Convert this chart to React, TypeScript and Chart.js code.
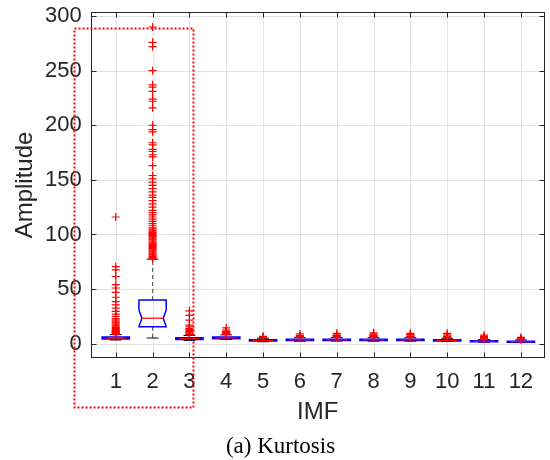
import { useEffect, useRef } from "react";
import { Chart, registerables } from "chart.js";

Chart.register(...registerables);

// IMF index on the x axis
const imfs = [1, 2, 3, 4, 5, 6, 7, 8, 9, 10, 11, 12];
const yTickValues = [0, 50, 100, 150, 200, 250, 300];

// Box statistics per IMF (kurtosis)
const q1 = [4.2, 15.6, 3.9, 4.5, 2.4, 2.9, 2.9, 2.9, 2.9, 2.4, 1.7, 1.3];
const median = [5.0, 23.3, 4.6, 5.2, 3.0, 3.5, 3.5, 3.5, 3.5, 3.0, 2.2, 1.8];
const q3 = [6.0, 40.0, 5.5, 6.1, 3.6, 4.1, 4.1, 4.1, 4.1, 3.6, 2.7, 2.3];
const notchLow = [4.6, 15.7, 4.3, 4.9, 2.7, 3.2, 3.2, 3.2, 3.2, 2.7, 2.0, 1.6];
const notchHigh = [5.4, 30.9, 4.9, 5.5, 3.3, 3.8, 3.8, 3.8, 3.8, 3.3, 2.4, 2.0];
const whiskerLow = [3.4, 5.2, 3.0, 3.8, 1.8, 2.3, 2.4, 2.3, 2.3, 1.9, 1.3, 1.0];
const whiskerHigh = [8.3, 77.4, 7.5, 8.1, 5.0, 5.5, 5.5, 5.5, 5.5, 5.0, 3.8, 3.4];

// Outlying values per IMF
const outlierValues: number[][] = [
  [116, 70.5, 67.5, 61.5, 54, 51, 47, 42.5, 38.5, 35.5, 32.5, 29.5, 27, 25, 23, 21.5, 20, 19, 18, 17, 16, 15, 14, 13, 12, 11.5, 11, 10.5, 10, 9.5, 9, 8.5],
  [290, 276, 272, 250, 237, 235, 231, 224, 222, 216, 200, 196, 194, 184, 182, 178, 176, 173, 171, 163, 154, 151, 148, 145, 142, 139, 136, 134, 131, 128, 125, 122, 120, 118, 116, 114, 112, 110, 108, 106, 105, 104, 103, 102, 101, 100, 99, 98, 97, 96, 95, 94, 93, 92, 91, 90, 89, 88, 87, 86, 85, 84, 83, 82, 81, 80, 79, 78],
  [30, 26, 21.5, 17, 15.5, 14, 13, 12, 11, 10, 9, 8.5, 8],
  [14.5, 12.5, 11.5, 11, 10.5, 10, 9.5, 9, 8.5],
  [6.7, 6, 5.5],
  [8.9, 7.5, 7, 6.5, 6],
  [9.5, 8, 7.5, 7, 6.5, 6],
  [10, 9, 8, 7.5, 7, 6.5, 6],
  [9.5, 8.5, 8, 7, 6.5, 6],
  [9.5, 8, 7, 6.5, 6, 5.5],
  [7.8, 6.5, 5.5, 5, 4.5, 4],
  [5.7, 5, 4.5, 4, 3.6],
];

// Highlighted group (IMF 1-3), in data units
const highlightX = [-0.13, 3.11];
const highlightY = [-58.2, 288.7];

const AXIS_COLOR = "#262626";
const SANS = '"Liberation Sans", Arial, sans-serif';

const boxHalfWidth = 0.37;
const capHalfWidth = 0.16;
const notchInset = 0.08;

const boxPlotPlugin = {
  id: "imfBoxPlot",
  beforeDatasetsDraw(chart: any) {
    const { ctx, chartArea: a, scales } = chart;
    const x = scales.x;
    const y = scales.y;
    ctx.save();
    // dotted grid
    ctx.strokeStyle = "#c6c6c6";
    ctx.lineWidth = 1;
    ctx.setLineDash([1, 1]);
    x.ticks.forEach((t: any) => {
      const px = Math.round(x.getPixelForValue(t.value)) + 0.5;
      ctx.beginPath();
      ctx.moveTo(px, a.top);
      ctx.lineTo(px, a.bottom);
      ctx.stroke();
    });
    y.ticks.forEach((t: any) => {
      const py = Math.round(y.getPixelForValue(t.value)) + 0.5;
      ctx.beginPath();
      ctx.moveTo(a.left, py);
      ctx.lineTo(a.right, py);
      ctx.stroke();
    });

    imfs.forEach((cat, i) => {
      const cx = x.getPixelForValue(cat);
      const hw = x.getPixelForValue(cat + boxHalfWidth) - cx;
      const cw = x.getPixelForValue(cat + capHalfWidth) - cx;
      const ni = x.getPixelForValue(cat + notchInset) - x.getPixelForValue(cat);
      const pQ1 = y.getPixelForValue(q1[i]);
      const pQ3 = y.getPixelForValue(q3[i]);
      const pMed = y.getPixelForValue(median[i]);
      const pNL = y.getPixelForValue(notchLow[i]);
      const pNH = y.getPixelForValue(notchHigh[i]);
      const pWL = y.getPixelForValue(whiskerLow[i]);
      const pWH = y.getPixelForValue(whiskerHigh[i]);

      // whiskers
      ctx.strokeStyle = "#555";
      ctx.lineWidth = 1;
      ctx.setLineDash([4, 3]);
      ctx.beginPath();
      ctx.moveTo(cx, pQ3);
      ctx.lineTo(cx, pWH);
      ctx.moveTo(cx, pQ1);
      ctx.lineTo(cx, pWL);
      ctx.stroke();
      ctx.setLineDash([]);
      ctx.strokeStyle = "#000";
      ctx.beginPath();
      ctx.moveTo(cx - cw, pWH);
      ctx.lineTo(cx + cw, pWH);
      ctx.moveTo(cx - cw, pWL);
      ctx.lineTo(cx + cw, pWL);
      ctx.stroke();

      // notched box
      ctx.strokeStyle = "#0000ff";
      ctx.lineWidth = 1.5;
      ctx.beginPath();
      ctx.moveTo(cx - hw, pQ3);
      ctx.lineTo(cx + hw, pQ3);
      ctx.lineTo(cx + hw, pNH);
      ctx.lineTo(cx + hw - ni, pMed);
      ctx.lineTo(cx + hw, pNL);
      ctx.lineTo(cx + hw, pQ1);
      ctx.lineTo(cx - hw, pQ1);
      ctx.lineTo(cx - hw, pNL);
      ctx.lineTo(cx - hw + ni, pMed);
      ctx.lineTo(cx - hw, pNH);
      ctx.closePath();
      ctx.stroke();

      // median
      ctx.strokeStyle = "#ff0000";
      ctx.lineWidth = 1.2;
      ctx.beginPath();
      ctx.moveTo(cx - hw + ni, pMed);
      ctx.lineTo(cx + hw - ni, pMed);
      ctx.stroke();
    });
    ctx.restore();
  },
  afterDatasetsDraw(chart: any) {
    const { ctx, chartArea: a, scales } = chart;
    const x = scales.x;
    const y = scales.y;
    const L = Math.round(a.left) + 0.5;
    const R = Math.round(a.right) - 0.5;
    const T = Math.round(a.top) + 0.5;
    const B = Math.round(a.bottom) - 0.5;
    ctx.save();
    ctx.strokeStyle = AXIS_COLOR;
    ctx.lineWidth = 1;
    ctx.strokeRect(L, T, R - L, B - T);
    const tick = 5;
    ctx.beginPath();
    x.ticks.forEach((t: any) => {
      const px = Math.round(x.getPixelForValue(t.value)) + 0.5;
      ctx.moveTo(px, B);
      ctx.lineTo(px, B - tick);
      ctx.moveTo(px, T);
      ctx.lineTo(px, T + tick);
    });
    y.ticks.forEach((t: any) => {
      const py = Math.round(y.getPixelForValue(t.value)) + 0.5;
      ctx.moveTo(L, py);
      ctx.lineTo(L + tick, py);
      ctx.moveTo(R, py);
      ctx.lineTo(R - tick, py);
    });
    ctx.stroke();
    ctx.restore();
  },
  afterDraw(chart: any) {
    const { ctx, scales } = chart;
    const x = scales.x;
    const y = scales.y;
    const x0 = Math.round(x.getPixelForValue(highlightX[0])) + 0.5;
    const x1 = Math.round(x.getPixelForValue(highlightX[1])) + 0.5;
    const y0 = Math.round(y.getPixelForValue(highlightY[1])) + 0.5;
    const y1 = Math.round(y.getPixelForValue(highlightY[0])) + 0.5;
    ctx.save();
    ctx.strokeStyle = "#ff0000";
    ctx.lineWidth = 2;
    ctx.setLineDash([2, 2]);
    ctx.strokeRect(x0, y0, x1 - x0, y1 - y0);
    ctx.setLineDash([]);
    ctx.fillStyle = "#000";
    ctx.font = '23px "Liberation Serif", "Times New Roman", serif';
    ctx.textAlign = "center";
    ctx.textBaseline = "alphabetic";
    ctx.fillText("(a) Kurtosis", 280.5, 452.7);
    ctx.restore();
  },
};

export default function App() {
  const canvasRef = useRef<HTMLCanvasElement | null>(null);

  useEffect(() => {
    if (!canvasRef.current) return;
    const points: { x: number; y: number }[] = [];
    outlierValues.forEach((vals, i) => {
      vals.forEach((v) => points.push({ x: imfs[i], y: v }));
    });

    const chart = new Chart(canvasRef.current, {
      type: "scatter",
      data: {
        datasets: [
          {
            label: "Outliers",
            data: points,
            pointStyle: "cross",
            pointRadius: 4,
            pointBorderColor: "#ff0000",
            pointBackgroundColor: "#ff0000",
            pointBorderWidth: 1.2,
            showLine: false,
          },
        ],
      },
      options: {
        animation: false,
        responsive: false,
        layout: { padding: { left: 0, top: 11.7, right: 1.5, bottom: 33.1 } },
        plugins: {
          legend: { display: false },
          tooltip: { enabled: false },
          title: { display: false },
        },
        scales: {
          x: {
            type: "linear",
            min: 0.32,
            max: 12.65,
            afterBuildTicks: (scale: any) => {
              scale.ticks = imfs.map((v) => ({ value: v }));
            },
            afterFit: (scale: any) => {
              scale.height = 68.6;
              scale.paddingLeft = 0;
              scale.paddingRight = 0;
            },
            ticks: {
              autoSkip: false,
              maxRotation: 0,
              padding: 10.5,
              color: AXIS_COLOR,
              font: { family: SANS, size: 22 },
              callback: (v: any) => String(v),
            },
            grid: { display: false, drawTicks: false },
            border: { display: false },
            title: {
              display: true,
              text: "IMF",
              color: AXIS_COLOR,
              font: { family: SANS, size: 24 },
              padding: { top: 0, bottom: 0 },
            },
          },
          y: {
            type: "linear",
            min: -13.4,
            max: 304,
            afterBuildTicks: (scale: any) => {
              scale.ticks = yTickValues.map((v) => ({ value: v }));
            },
            afterFit: (scale: any) => {
              scale.width = 90.7;
              scale.paddingTop = 0;
              scale.paddingBottom = 0;
            },
            ticks: {
              padding: 9,
              color: AXIS_COLOR,
              font: { family: SANS, size: 22 },
              callback: (v: any) => String(v),
            },
            grid: { display: false, drawTicks: false },
            border: { display: false },
            title: {
              display: true,
              text: "Amplitude",
              color: AXIS_COLOR,
              font: { family: SANS, size: 24 },
              padding: { top: 10.8, bottom: 0 },
            },
          },
        },
      },
      plugins: [boxPlotPlugin],
    });
    return () => chart.destroy();
  }, []);

  return (
    <div style={{ position: "absolute", left: 0, top: 0, width: 550, height: 460, background: "#fff" }}>
      <canvas ref={canvasRef} width={550} height={460} style={{ display: "block" }} />
    </div>
  );
}
